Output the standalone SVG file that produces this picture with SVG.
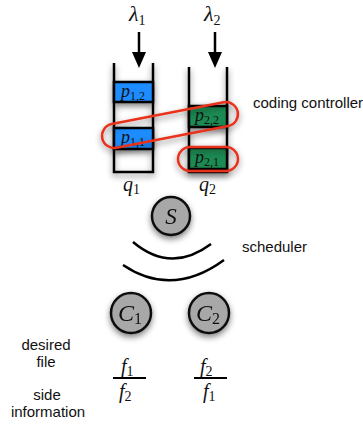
<svg xmlns="http://www.w3.org/2000/svg" width="363" height="425" viewBox="0 0 363 425">
<style>
.lbl{font-family:"Liberation Sans",Arial,sans-serif;font-size:15px;fill:#111}
.m{font-family:"Liberation Serif","Times New Roman",serif;font-style:italic;fill:#111}
.sub{font-style:normal}
.wall{stroke:#000;stroke-width:2.5;fill:none}
.blue{fill:#1a8cff;stroke:#000;stroke-width:2.5}
.green{fill:#1c8a52;stroke:#000;stroke-width:2.5}
.node{fill:#a8a8a8;stroke:#111;stroke-width:2.5}
.ring{fill:none;stroke:#e8321c;stroke-width:2.5}
.arc{fill:none;stroke:#000;stroke-width:2.5}
.frac{stroke:#000;stroke-width:2}
</style>
<defs>
<filter id="sh" x="-50%" y="-50%" width="200%" height="200%">
<feGaussianBlur in="SourceAlpha" stdDeviation="3"/>
<feOffset dx="0" dy="3" result="b"/>
<feComponentTransfer><feFuncA type="linear" slope="0.5"/></feComponentTransfer>
<feMerge><feMergeNode/><feMergeNode in="SourceGraphic"/></feMerge>
</filter>
</defs>
<g id="connectors">
<line x1="139" y1="32" x2="139" y2="53" stroke="#000" stroke-width="2.5"/>
<path d="M132,52 L146,52 L139,68 Z" fill="#000"/>
<line x1="215" y1="32" x2="215" y2="53" stroke="#000" stroke-width="2.5"/>
<path d="M208,52 L222,52 L215,68 Z" fill="#000"/>
</g>
<g id="lambda1"><text class="m" x="129" y="21" font-size="22">λ<tspan class="sub" font-size="14" dy="4">1</tspan></text></g>
<g id="lambda2"><text class="m" x="204" y="21" font-size="22">λ<tspan class="sub" font-size="14" dy="4">2</tspan></text></g>
<g id="q1" filter="url(#sh)">
<path class="wall" d="M114,63 V172 H153 V63"/>
<rect class="blue" x="114" y="82" width="39" height="20"/>
<rect class="blue" x="114" y="128" width="39" height="21"/>
</g>
<g id="q2" filter="url(#sh)">
<path class="wall" d="M189,67 V172 H227 V67"/>
<rect class="green" x="189" y="106" width="38" height="21"/>
<rect class="green" x="189" y="148" width="38" height="21"/>
</g>
<g id="p12"><text class="m" x="121" y="97" font-size="18">p<tspan class="sub" font-size="12" dy="3">1,2</tspan></text></g>
<g id="p11"><text class="m" x="121" y="143" font-size="18">p<tspan class="sub" font-size="12" dy="3">1,1</tspan></text></g>
<g id="p22"><text class="m" x="195" y="121" font-size="18">p<tspan class="sub" font-size="12" dy="3">2,2</tspan></text></g>
<g id="p21"><text class="m" x="195" y="163" font-size="18">p<tspan class="sub" font-size="12" dy="3">2,1</tspan></text></g>
<g id="controller-rings" filter="url(#sh)">
<rect class="ring" x="101" y="113" width="138" height="24" rx="12" transform="rotate(-11 170 125)"/>
<rect class="ring" x="178" y="147" width="60" height="24" rx="12"/>
</g>
<g id="coding-controller"><text class="lbl" x="253" y="108">coding controller</text></g>
<g id="qlabel1"><text class="m" x="123" y="191" font-size="20">q<tspan class="sub" font-size="14" dy="3">1</tspan></text></g>
<g id="qlabel2"><text class="m" x="199" y="191" font-size="20">q<tspan class="sub" font-size="14" dy="3">2</tspan></text></g>
<g id="S" filter="url(#sh)">
<circle class="node" cx="171" cy="216" r="19"/>
<text class="m" x="171" y="224" font-size="23" text-anchor="middle">S</text>
</g>
<g id="scheduler-waves">
<path class="arc" d="M133,242 Q171,274 211,244"/>
<path class="arc" d="M123,265 Q172,298 224,260"/>
</g>
<g id="scheduler"><text class="lbl" x="242" y="252">scheduler</text></g>
<g id="C1" filter="url(#sh)">
<circle class="node" cx="131" cy="313" r="20"/>
<text class="m" x="130" y="321" font-size="24" text-anchor="middle">C<tspan class="sub" font-size="16" dy="3">1</tspan></text>
</g>
<g id="C2" filter="url(#sh)">
<circle class="node" cx="209" cy="313" r="20"/>
<text class="m" x="208" y="321" font-size="24" text-anchor="middle">C<tspan class="sub" font-size="16" dy="3">2</tspan></text>
</g>
<g id="desired-file">
<text class="lbl" x="46" y="350" text-anchor="middle">desired</text>
<text class="lbl" x="46" y="367" text-anchor="middle">file</text>
</g>
<g id="side-information">
<text class="lbl" x="47" y="400" text-anchor="middle">side</text>
<text class="lbl" x="48" y="417" text-anchor="middle">information</text>
</g>
<g id="frac1">
<text class="m" x="121" y="373" font-size="20">f<tspan class="sub" font-size="14" dy="3">1</tspan></text>
<line class="frac" x1="113" y1="378" x2="146" y2="378"/>
<text class="m" x="119" y="398" font-size="20">f<tspan class="sub" font-size="14" dy="3">2</tspan></text>
</g>
<g id="frac2">
<text class="m" x="200" y="373" font-size="20">f<tspan class="sub" font-size="14" dy="3">2</tspan></text>
<line class="frac" x1="194" y1="378" x2="227" y2="378"/>
<text class="m" x="203" y="398" font-size="20">f<tspan class="sub" font-size="14" dy="3">1</tspan></text>
</g>
</svg>
